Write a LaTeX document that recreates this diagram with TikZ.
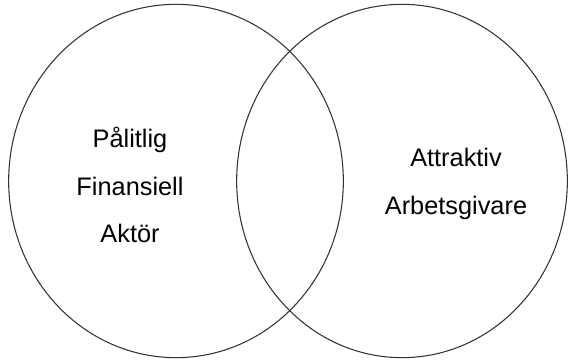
\documentclass[tikz,border=0pt]{standalone}
\usepackage{fontspec}
\setmainfont{Liberation Sans}
\usetikzlibrary{shapes.geometric}

\begin{document}
\begin{tikzpicture}[x=0.75pt, y=-0.75pt,
    ring/.style={draw=black!80, line width=0.8pt, ellipse, inner sep=0pt, minimum height=265pt},
    lbl/.style={font=\fontsize{19}{35.5}\selectfont, align=center},
]
\useasboundingbox (0,0) rectangle (568,360);
% left circle
\node[ring, minimum width=251pt] (left) at (176,181) {};
% right circle
\node[ring, minimum width=248pt] (right) at (402,181) {};
% labels
\node[lbl] (trust) at (130,185) {Pålitlig\\Finansiell\\Aktör};
\node[lbl] (employer) at (456,184) {Attraktiv\\Arbetsgivare};
\end{tikzpicture}
\end{document}
